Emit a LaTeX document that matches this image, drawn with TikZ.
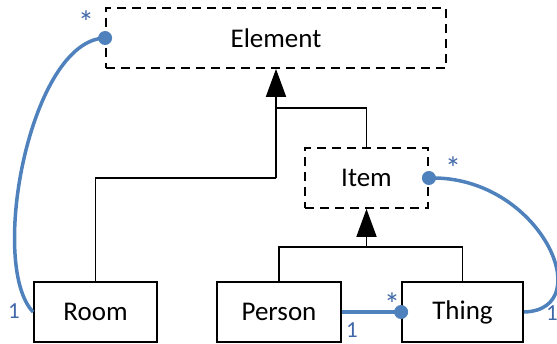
\documentclass[tikz,border=0pt]{standalone}
\usepackage{fontspec}
\setmainfont{Carlito}
\usetikzlibrary{arrows.meta}
\definecolor{assoc}{HTML}{4F81BD}
\definecolor{multc}{HTML}{4068A8}
\tikzset{
  cls/.style={draw=black, line width=1.8pt, minimum height=60pt, inner sep=0pt, font=\fontsize{27}{32}\selectfont, text=black},
  abstractcls/.style={cls, dash pattern=on 9pt off 6pt},
  gen/.style={line width=1.8pt, -{Triangle[width=20pt,length=28pt]}},
  genline/.style={line width=1.8pt},
  assocline/.style={draw=assoc, line width=3.5pt},
  dotend/.style={fill=assoc, circle, inner sep=0pt, minimum size=14pt},
  mult/.style={text=multc, font=\fontsize{23}{26}\selectfont, inner sep=0pt},
  multstar/.style={text=multc, font=\fontsize{32}{36}\selectfont, inner sep=0pt}
}
\begin{document}
\begin{tikzpicture}[x=1pt,y=-1pt]
\useasboundingbox (0,0) rectangle (557,343);
% classes
\node[abstractcls, minimum width=340pt] (Element) at (276,38) {Element};
\node[abstractcls, minimum width=123pt] (Item) at (366.5,178) {Item};
\node[cls, minimum width=123pt] (Room) at (95.5,312) {Room};
\node[cls, minimum width=124pt] (Person) at (279,312) {Person};
\node[cls, minimum width=121pt] (Thing) at (462.5,312) {Thing};
% generalisation junctions
\coordinate (jRoom) at (276,178);
\coordinate (jItem) at (276,108);
\coordinate (jSub) at (366.5,247);
\draw[genline] (Room.north) |- (jRoom);
\draw[genline] (Item.north) |- (jItem);
\draw[gen] (jRoom) -- (Element.south);
\draw[genline] (Person.north) |- (jSub) -| (Thing.north);
\draw[gen] (jSub) -- (Item.south);
% associations
\coordinate (aE) at (Element.west);
\coordinate (aI) at (Item.east);
\coordinate (aT) at (Thing.west);
\draw[assocline] (aE) .. controls (30,40) and (-12,265) .. (Room.west);
\draw[assocline] (aI) .. controls (540,175) and (600,310) .. (Thing.east);
\draw[assocline] (Person.east) -- (aT);
\node[dotend] (dE) at (aE) {};
\node[dotend] (dI) at (aI) {};
\node[dotend] (dT) at (aT) {};
% multiplicities
\node[multstar] (mE) at (86,22) {*};
\node[mult] (mR) at (14,311) {1};
\node[multstar] (mI) at (453,168) {*};
\node[mult] (mT2) at (552,313) {1};
\node[mult] (mP) at (352,330) {1};
\node[multstar] (mT) at (392,304) {*};
\end{tikzpicture}
\end{document}
